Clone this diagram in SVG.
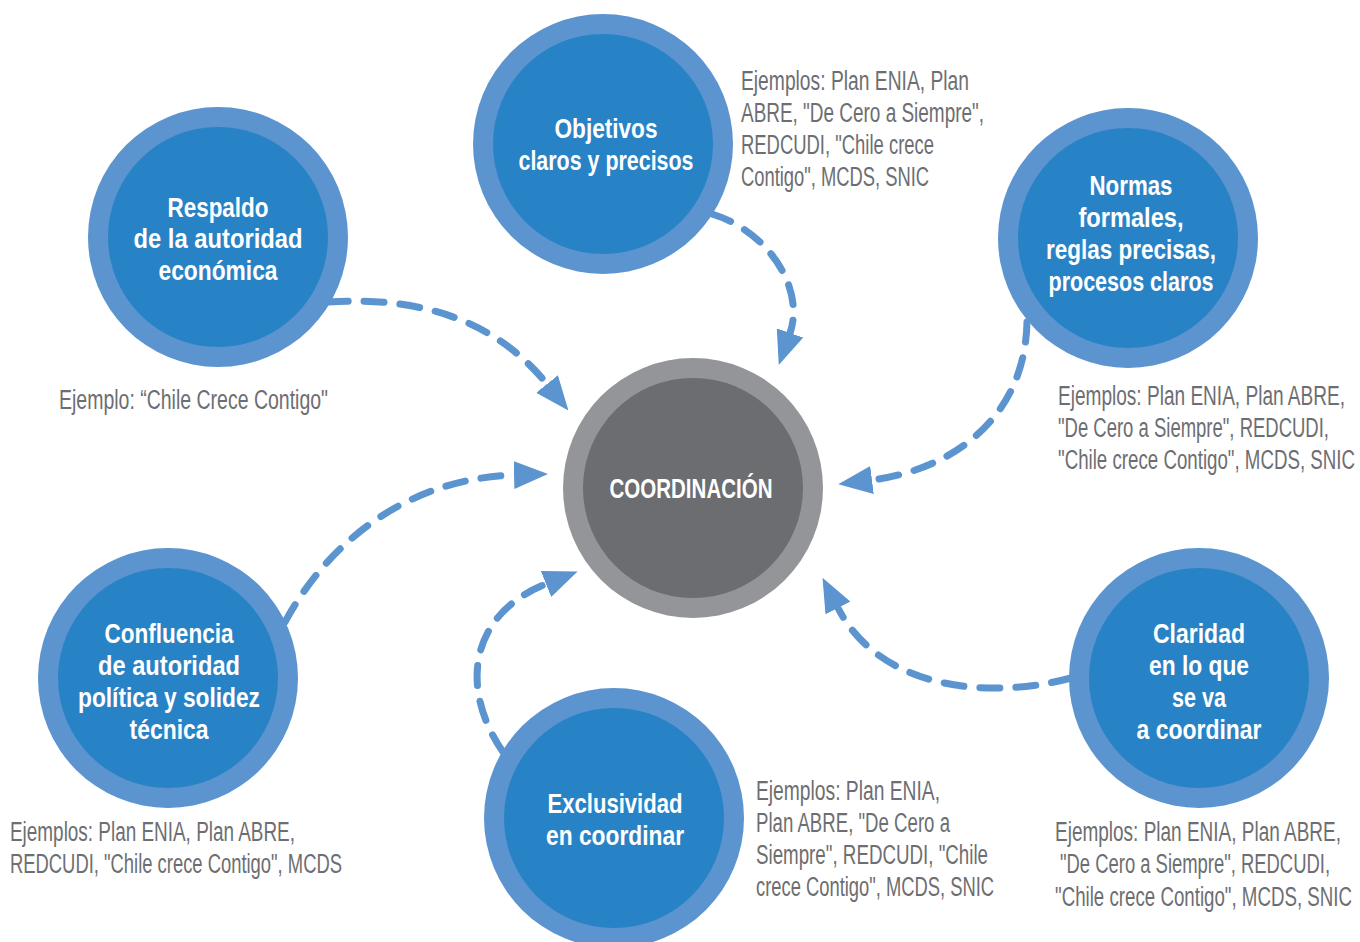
<svg xmlns="http://www.w3.org/2000/svg" width="1360" height="942" viewBox="0 0 1360 942">
<style>
.ring{fill:#5b94cf}
.core{fill:#2883c6}
.gring{fill:#939598}
.gcore{fill:#6c6d71}
.lbl{font-family:"Liberation Sans",Arial,sans-serif;font-weight:bold;font-size:28px;fill:#ffffff;text-anchor:middle}
.note{font-family:"Liberation Sans",Arial,sans-serif;font-size:27px;fill:#6d6e71}
.conn{fill:none;stroke:#5b94cf;stroke-width:7;stroke-dasharray:20 16;stroke-linecap:round}
</style>
<defs>
<marker id="ah" viewBox="0 0 34 28" refX="0" refY="14" markerWidth="34" markerHeight="28" markerUnits="userSpaceOnUse" orient="auto">
<path d="M0,0 L34,14 L0,28 z" fill="#5b94cf"/>
</marker>
</defs>
<rect width="1360" height="942" fill="#ffffff"/>
<g id="connectors">
<path class="conn" d="M 328 302 C 420 296 495 320 547 384" marker-end="url(#ah)"/>
<path class="conn" d="M 712 214 C 770 232 805 290 790 333" marker-end="url(#ah)"/>
<path class="conn" d="M 1027 322 C 1025 420 950 470 872 480" marker-end="url(#ah)"/>
<path class="conn" d="M 285 622 C 335 530 420 478 514 475" marker-end="url(#ah)"/>
<path class="conn" d="M 503 752 C 460 690 468 615 546 584" marker-end="url(#ah)"/>
<path class="conn" d="M 1071 678 C 990 700 880 690 838 608" marker-end="url(#ah)"/>
</g>
<g id="node-coordinacion">
<circle class="gring" cx="693" cy="488" r="130"/>
<circle class="gcore" cx="693" cy="488" r="110"/>
<text class="lbl" x="691" y="498" textLength="163" lengthAdjust="spacingAndGlyphs">COORDINACIÓN</text>
</g>
<g id="node-objetivos">
<circle class="ring" cx="603" cy="144" r="130"/>
<circle class="core" cx="603" cy="144" r="110"/>
<text class="lbl" x="606" y="138" textLength="103" lengthAdjust="spacingAndGlyphs">Objetivos</text>
<text class="lbl" x="606" y="170" textLength="175" lengthAdjust="spacingAndGlyphs">claros y precisos</text>
</g>
<g id="node-respaldo">
<circle class="ring" cx="218" cy="237" r="130"/>
<circle class="core" cx="218" cy="237" r="110"/>
<text class="lbl" x="218" y="217" textLength="101" lengthAdjust="spacingAndGlyphs">Respaldo</text>
<text class="lbl" x="218" y="248" textLength="169" lengthAdjust="spacingAndGlyphs">de la autoridad</text>
<text class="lbl" x="218" y="280" textLength="119" lengthAdjust="spacingAndGlyphs">económica</text>
</g>
<g id="node-normas">
<circle class="ring" cx="1128" cy="238" r="130"/>
<circle class="core" cx="1128" cy="238" r="110"/>
<text class="lbl" x="1131" y="195" textLength="83" lengthAdjust="spacingAndGlyphs">Normas</text>
<text class="lbl" x="1131" y="227" textLength="105" lengthAdjust="spacingAndGlyphs">formales,</text>
<text class="lbl" x="1131" y="259" textLength="170" lengthAdjust="spacingAndGlyphs">reglas precisas,</text>
<text class="lbl" x="1131" y="291" textLength="165" lengthAdjust="spacingAndGlyphs">procesos claros</text>
</g>
<g id="node-confluencia">
<circle class="ring" cx="168" cy="678" r="130"/>
<circle class="core" cx="168" cy="678" r="110"/>
<text class="lbl" x="169" y="643" textLength="129" lengthAdjust="spacingAndGlyphs">Confluencia</text>
<text class="lbl" x="169" y="675" textLength="142" lengthAdjust="spacingAndGlyphs">de autoridad</text>
<text class="lbl" x="169" y="707" textLength="182" lengthAdjust="spacingAndGlyphs">política y solidez</text>
<text class="lbl" x="169" y="739" textLength="79" lengthAdjust="spacingAndGlyphs">técnica</text>
</g>
<g id="node-exclusividad">
<circle class="ring" cx="614" cy="818" r="130"/>
<circle class="core" cx="614" cy="818" r="110"/>
<text class="lbl" x="615" y="813" textLength="135" lengthAdjust="spacingAndGlyphs">Exclusividad</text>
<text class="lbl" x="615" y="845" textLength="138" lengthAdjust="spacingAndGlyphs">en coordinar</text>
</g>
<g id="node-claridad">
<circle class="ring" cx="1199" cy="678" r="130"/>
<circle class="core" cx="1199" cy="678" r="110"/>
<text class="lbl" x="1199" y="643" textLength="92" lengthAdjust="spacingAndGlyphs">Claridad</text>
<text class="lbl" x="1199" y="675" textLength="100" lengthAdjust="spacingAndGlyphs">en lo que</text>
<text class="lbl" x="1199" y="707" textLength="54" lengthAdjust="spacingAndGlyphs">se va</text>
<text class="lbl" x="1199" y="739" textLength="125" lengthAdjust="spacingAndGlyphs">a coordinar</text>
</g>
<g id="notes">
<text class="note" x="741" y="90" textLength="228" lengthAdjust="spacingAndGlyphs">Ejemplos: Plan ENIA, Plan</text>
<text class="note" x="741" y="122" textLength="243" lengthAdjust="spacingAndGlyphs">ABRE, "De Cero a Siempre",</text>
<text class="note" x="741" y="154" textLength="193" lengthAdjust="spacingAndGlyphs">REDCUDI, "Chile crece</text>
<text class="note" x="741" y="186" textLength="188" lengthAdjust="spacingAndGlyphs">Contigo", MCDS, SNIC</text>

<text class="note" x="59" y="409" textLength="269" lengthAdjust="spacingAndGlyphs">Ejemplo: “Chile Crece Contigo"</text>

<text class="note" x="1058" y="405" textLength="287" lengthAdjust="spacingAndGlyphs">Ejemplos: Plan ENIA, Plan ABRE,</text>
<text class="note" x="1058" y="437" textLength="271" lengthAdjust="spacingAndGlyphs">"De Cero a Siempre", REDCUDI,</text>
<text class="note" x="1058" y="469" textLength="297" lengthAdjust="spacingAndGlyphs">"Chile crece Contigo", MCDS, SNIC</text>

<text class="note" x="10" y="841" textLength="285" lengthAdjust="spacingAndGlyphs">Ejemplos: Plan ENIA, Plan ABRE,</text>
<text class="note" x="10" y="873" textLength="332" lengthAdjust="spacingAndGlyphs">REDCUDI, "Chile crece Contigo", MCDS</text>

<text class="note" x="756" y="800" textLength="184" lengthAdjust="spacingAndGlyphs">Ejemplos: Plan ENIA,</text>
<text class="note" x="756" y="832" textLength="194" lengthAdjust="spacingAndGlyphs">Plan ABRE, "De Cero a</text>
<text class="note" x="756" y="864" textLength="232" lengthAdjust="spacingAndGlyphs">Siempre", REDCUDI, "Chile</text>
<text class="note" x="756" y="896" textLength="238" lengthAdjust="spacingAndGlyphs">crece Contigo", MCDS, SNIC</text>

<text class="note" x="1055" y="841" textLength="286" lengthAdjust="spacingAndGlyphs">Ejemplos: Plan ENIA, Plan ABRE,</text>
<text class="note" x="1060" y="873" textLength="270" lengthAdjust="spacingAndGlyphs">"De Cero a Siempre", REDCUDI,</text>
<text class="note" x="1055" y="906" textLength="297" lengthAdjust="spacingAndGlyphs">"Chile crece Contigo", MCDS, SNIC</text>
</g>
</svg>
